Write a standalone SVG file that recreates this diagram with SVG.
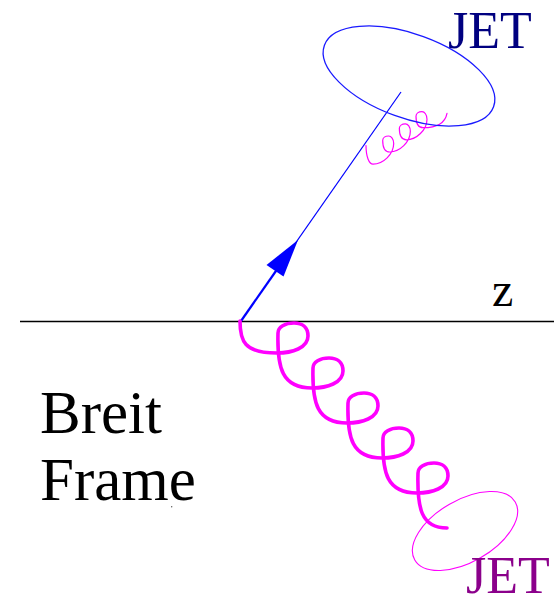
<svg xmlns="http://www.w3.org/2000/svg" width="554" height="596" viewBox="0 0 554 596">
<style>
.lbl{font-family:"Liberation Serif","Times New Roman",serif}
.gl{fill:none;stroke:#ff00ff;stroke-linecap:round;stroke-linejoin:round}
.jetline{fill:none;stroke:#0000ff}
</style>
<rect width="554" height="596" fill="#ffffff"/>
<g id="connectors">
  <line id="z-axis" x1="20" y1="321.5" x2="554" y2="321.5" stroke="#000000" stroke-width="1.6"/>
  <line id="quark-upper" class="jetline" x1="276" y1="271" x2="401" y2="92" stroke-width="1.2"/>
  <line id="quark-lower" class="jetline" x1="241" y1="321" x2="277" y2="269.5" stroke-width="2.2"/>
  <polygon id="arrowhead" points="298,240 266.5,265 283.5,276.5" fill="#0000ff"/>
  <path id="gluon-big" class="gl" stroke-width="3.6" d="M240,321 c0,20 4,32 37,32
    c15,0 31,-5 31,-17 c0,-9 -6,-13 -14,-13 c-9,0 -16,4 -16,10 c-1,35 4,55 34,55
    c15,0 31,-5 31,-17 c0,-9 -6,-13 -14,-13 c-9,0 -16,4 -16,10 c-1,35 4,55 34,55
    c15,0 31,-5 31,-17 c0,-9 -6,-13 -14,-13 c-9,0 -16,4 -16,10 c-1,35 4,55 34,55
    c15,0 31,-5 31,-17 c0,-9 -6,-13 -14,-13 c-9,0 -16,4 -16,10 c-1,35 4,55 34,55
    c15,0 31,-5 31,-17 c0,-9 -6,-13 -14,-13 c-9,0 -16,4 -16,10 c-1,35 3,55 29,55"/>
  <path id="gluon-small" class="gl" stroke-width="1.2" d="M366,145.5 c0,11 3,18.65 7.05,18.65
    c10,0 20.65,-10 20.65,-20.65 c0,-4.5 -2.5,-7.5 -5,-7.5 c-3.5,0 -6,2 -6,4.5 c0,7 2.5,11.5 7,11.5
    c10,0 20.65,-10 20.65,-20.65 c0,-4.5 -2.5,-7.5 -5,-7.5 c-3.5,0 -6,2 -6,4.5 c0,7 2.5,11.5 7,11.5
    c10,0 20.65,-10 20.65,-20.65 c0,-4.5 -2.5,-7.5 -5,-7.5 c-3.5,0 -6,2 -6,4.5 c0,7 2.5,11.5 7,11.5
    c12,0 22,-4 24,-14.4"/>
</g>
<g id="jet-upper">
  <ellipse cx="409" cy="76" rx="90" ry="42" transform="rotate(20 409 76)" fill="none" stroke="#1a1aff" stroke-width="1.3"/>
  <text class="lbl" x="448" y="48" font-size="52" fill="#000080">JET</text>
</g>
<g id="jet-lower">
  <ellipse cx="465" cy="531" rx="58" ry="31" transform="rotate(-30 465 531)" fill="none" stroke="#ff00ff" stroke-width="1.1"/>
  <text class="lbl" x="466" y="593" font-size="52" fill="#8b008b">JET</text>
</g>
<g id="z-label">
  <text class="lbl" x="492" y="306" font-size="48" fill="#000000">z</text>
</g>
<g id="frame-label">
  <text class="lbl" x="40" y="433" font-size="61" fill="#000000">Breit</text>
  <text class="lbl" x="40" y="500" font-size="61" fill="#000000">Frame</text>
  <circle cx="171.7" cy="506.7" r="0.7" fill="#555555"/>
</g>
</svg>
